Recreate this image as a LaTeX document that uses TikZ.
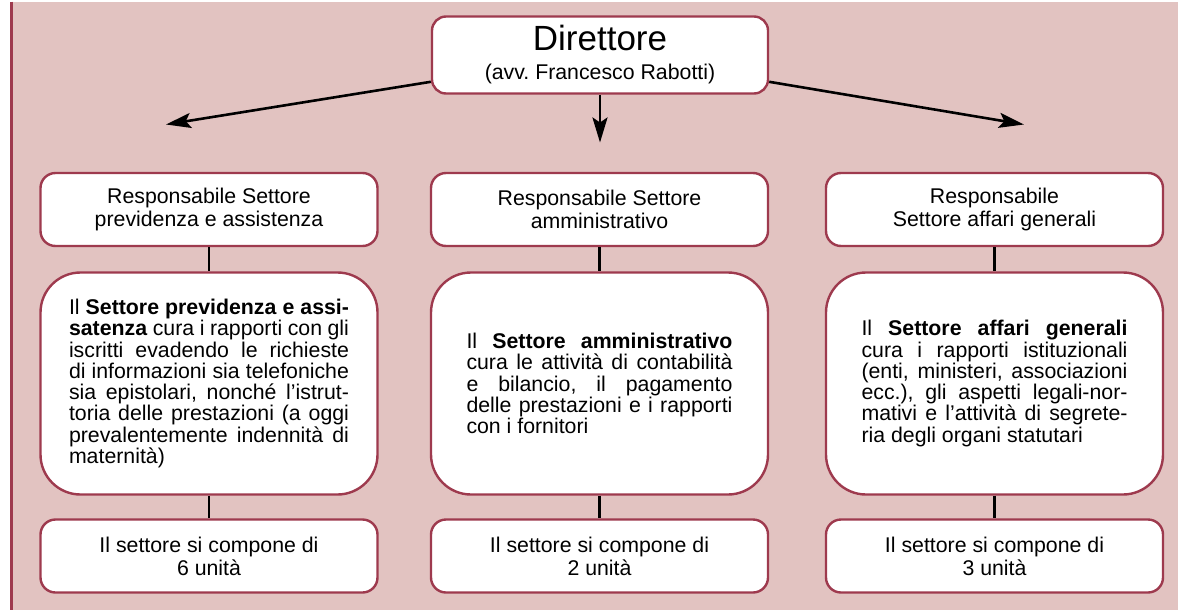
\documentclass[tikz,border=0pt]{standalone}
\usepackage{fontspec}
\setmainfont{Liberation Sans}
\usetikzlibrary{arrows.meta}
\definecolor{sfondo}{HTML}{E2C3C1}
\definecolor{bordo}{HTML}{9E3A4E}

\begin{document}
\begin{tikzpicture}[x=1pt,y=-1pt]
    % Setup the styles for the boxes
        \tikzset{box style/.style={draw=bordo,
                                   line width=2.4pt,
                                   fill=white,
                                   rounded corners=15pt,
                                   inner sep=0pt,
                                   minimum width=337pt,
                                   minimum height=73pt,
                                   align=center,
                                   font=\fontsize{21.3}{23}\selectfont\frenchspacing},
                 text style/.style={box style,
                                    rounded corners=40pt,
                                    minimum height=222pt,
                                    text width=266pt,
                                    align=justify,
                                    font=\fontsize{21.3}{21.3}\selectfont\frenchspacing},
                 link style/.style={line width=2.5pt},
                 arrow style/.style={line width=2.6pt,
                                     -{Stealth[length=25pt,width=15pt,inset=5pt]}}}
        % Background
        \fill[white] (0,0) rectangle (1178,608);
        \fill[sfondo] (11,0) rectangle (1178,608);
        \draw[bordo, line width=3pt] (11,0) -- (11,608);
        % Draw the director
        \node[box style, minimum width=336pt, minimum height=77pt,
              rounded corners=14pt, font=\fontsize{21.3}{29}\selectfont\frenchspacing]
              at (600,53.5) (dir) {{\fontsize{35}{38}\selectfont Direttore}\\(avv. Francesco Rabotti)};
        \coordinate (arr_l) at (166,123);
        \coordinate (arr_d) at (600,141);
        \coordinate (arr_r) at (1024,123);
        % Draw the heads of the sectors
        \node[box style] at (209,208)   (resp_prev) {Responsabile Settore\\previdenza e assistenza};
        \node[box style] at (599.5,208) (resp_amm)  {Responsabile Settore\\amministrativo};
        \node[box style] at (994.5,208) (resp_aff)  {Responsabile\\Settore affari generali};
        % Draw the descriptions
        \node[text style, text width=280pt] at (209,382) (sett_prev)
              {Il \textbf{Settore previdenza e assi-\linebreak satenza} cura i rapporti con gli\linebreak
               iscritti evadendo le richieste\linebreak di informazioni sia telefoniche\linebreak
               sia epistolari, nonché l'istrut-\linebreak toria delle prestazioni (a oggi\linebreak
               prevalentemente indennità di\linebreak maternità)};
        \node[text style] at (599.5,382) (sett_amm)
              {Il \textbf{Settore amministrativo}\linebreak cura le attività di contabilità\linebreak
               e bilancio, il pagamento\linebreak delle prestazioni e i rapporti\linebreak
               con i fornitori};
        \node[text style] at (994.5,382) (sett_aff)
              {Il \textbf{Settore affari generali}\linebreak cura i rapporti istituzionali\linebreak
               (enti, ministeri, associazioni\linebreak ecc.), gli aspetti legali-nor-\linebreak
               mativi e l'attività di segrete-\linebreak ria degli organi statutari};
        % Draw the units
        \node[box style] at (209,554.5)   (unit_prev) {Il settore si compone di\\6 unità};
        \node[box style] at (599.5,554.5) (unit_amm)  {Il settore si compone di\\2 unità};
        \node[box style] at (994.5,554.5) (unit_aff)  {Il settore si compone di\\3 unità};
        % Connect the boxes
        \draw[arrow style] (dir.189) -- (arr_l);
        \draw[arrow style] (dir) -- (arr_d);
        \draw[arrow style] (dir.351) -- (arr_r);
        \draw[link style]
        (resp_prev) edge (sett_prev)
        (sett_prev) edge (unit_prev)
        (resp_amm)  edge (sett_amm)
        (sett_amm)  edge (unit_amm)
        (resp_aff)  edge (sett_aff)
        (sett_aff)  edge (unit_aff);
\end{tikzpicture}
\end{document}
